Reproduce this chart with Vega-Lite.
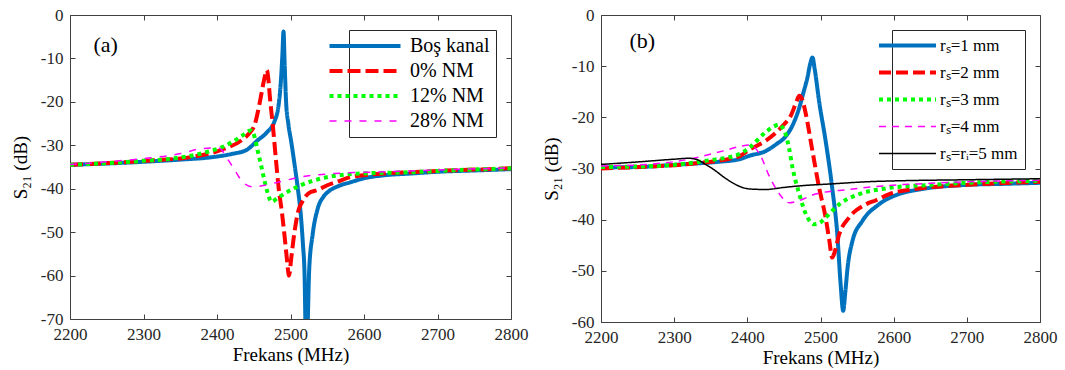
{
  "$schema": "https://vega.github.io/schema/vega-lite/v6.json",
  "background": "white",
  "padding": {"left": 10, "top": 5, "right": 5, "bottom": 0},
  "spacing": 12,
  "config": {
    "view": {"stroke": "#404040", "strokeWidth": 1},
    "font": "Liberation Serif",
    "text": {"font": "Liberation Serif"},
    "style": {
      "guide-label": {"font": "Liberation Serif", "fontWeight": "normal"},
      "guide-title": {"font": "Liberation Serif", "fontWeight": "normal"}
    },
    "axis": {
      "labelFont": "Liberation Serif", "labelFontSize": 17, "labelColor": "#262626", "labelFontWeight": "normal",
      "titleFont": "Liberation Serif", "titleFontSize": 19, "titleFontWeight": "normal", "titleColor": "black",
      "grid": false, "domain": false, "tickColor": "#404040", "tickSize": -5, "tickWidth": 1,
      "labelPadding": 12, "titlePadding": 10, "labelFlush": false, "labelOverlap": false
    },
    "axisX": {"titlePadding": 3, "format": "d"},
    "legend": {
      "orient": "top-right", "offset": 15, "strokeColor": "#262626", "fillColor": "white",
      "labelFont": "Liberation Serif", "labelFontWeight": "normal", "labelColor": "black", "symbolType": "stroke", "cornerRadius": 0
    }
  },
  "resolve": {
    "scale": {"color": "independent", "strokeDash": "independent"},
    "legend": {"color": "independent", "strokeDash": "independent"}
  },
  "datasets": {
    "a": [
      {"f": 2200, "s21": -34.5, "series": "Boş kanal"},
      {"f": 2250, "s21": -34.2, "series": "Boş kanal"},
      {"f": 2300, "s21": -33.8, "series": "Boş kanal"},
      {"f": 2350, "s21": -33.3, "series": "Boş kanal"},
      {"f": 2390, "s21": -32.8, "series": "Boş kanal"},
      {"f": 2420, "s21": -32.0, "series": "Boş kanal"},
      {"f": 2440, "s21": -31.1, "series": "Boş kanal"},
      {"f": 2455, "s21": -28.9, "series": "Boş kanal"},
      {"f": 2468, "s21": -27.0, "series": "Boş kanal"},
      {"f": 2478, "s21": -24.6, "series": "Boş kanal"},
      {"f": 2484, "s21": -20.5, "series": "Boş kanal"},
      {"f": 2487, "s21": -15.0, "series": "Boş kanal"},
      {"f": 2489, "s21": -9.0, "series": "Boş kanal"},
      {"f": 2490.5, "s21": -3.8, "series": "Boş kanal"},
      {"f": 2492, "s21": -11.0, "series": "Boş kanal"},
      {"f": 2494, "s21": -20.0, "series": "Boş kanal"},
      {"f": 2497, "s21": -25.0, "series": "Boş kanal"},
      {"f": 2501, "s21": -29.2, "series": "Boş kanal"},
      {"f": 2506, "s21": -35.0, "series": "Boş kanal"},
      {"f": 2510, "s21": -40.0, "series": "Boş kanal"},
      {"f": 2514, "s21": -46.0, "series": "Boş kanal"},
      {"f": 2517, "s21": -53.0, "series": "Boş kanal"},
      {"f": 2519, "s21": -59.0, "series": "Boş kanal"},
      {"f": 2521.5, "s21": -80.0, "series": "Boş kanal"},
      {"f": 2525.5, "s21": -58.4, "series": "Boş kanal"},
      {"f": 2530, "s21": -50.7, "series": "Boş kanal"},
      {"f": 2537, "s21": -44.6, "series": "Boş kanal"},
      {"f": 2545, "s21": -41.8, "series": "Boş kanal"},
      {"f": 2552, "s21": -40.6, "series": "Boş kanal"},
      {"f": 2565, "s21": -39.4, "series": "Boş kanal"},
      {"f": 2582, "s21": -38.5, "series": "Boş kanal"},
      {"f": 2600, "s21": -37.6, "series": "Boş kanal"},
      {"f": 2628, "s21": -36.9, "series": "Boş kanal"},
      {"f": 2664, "s21": -36.5, "series": "Boş kanal"},
      {"f": 2700, "s21": -36.1, "series": "Boş kanal"},
      {"f": 2750, "s21": -35.8, "series": "Boş kanal"},
      {"f": 2800, "s21": -35.5, "series": "Boş kanal"},

      {"f": 2200, "s21": -34.5, "series": "0% NM"},
      {"f": 2250, "s21": -34.1, "series": "0% NM"},
      {"f": 2310, "s21": -33.5, "series": "0% NM"},
      {"f": 2365, "s21": -32.7, "series": "0% NM"},
      {"f": 2410, "s21": -30.8, "series": "0% NM"},
      {"f": 2433, "s21": -28.9, "series": "0% NM"},
      {"f": 2445, "s21": -27.0, "series": "0% NM"},
      {"f": 2451, "s21": -25.4, "series": "0% NM"},
      {"f": 2456, "s21": -22.0, "series": "0% NM"},
      {"f": 2460, "s21": -18.5, "series": "0% NM"},
      {"f": 2464, "s21": -15.0, "series": "0% NM"},
      {"f": 2468, "s21": -12.7, "series": "0% NM"},
      {"f": 2470, "s21": -15.0, "series": "0% NM"},
      {"f": 2472, "s21": -19.0, "series": "0% NM"},
      {"f": 2476, "s21": -25.5, "series": "0% NM"},
      {"f": 2480, "s21": -33.0, "series": "0% NM"},
      {"f": 2484, "s21": -40.0, "series": "0% NM"},
      {"f": 2488, "s21": -45.0, "series": "0% NM"},
      {"f": 2492, "s21": -51.0, "series": "0% NM"},
      {"f": 2495, "s21": -56.0, "series": "0% NM"},
      {"f": 2498, "s21": -60.0, "series": "0% NM"},
      {"f": 2501, "s21": -56.0, "series": "0% NM"},
      {"f": 2505, "s21": -50.5, "series": "0% NM"},
      {"f": 2510, "s21": -45.5, "series": "0% NM"},
      {"f": 2516, "s21": -43.0, "series": "0% NM"},
      {"f": 2525, "s21": -41.0, "series": "0% NM"},
      {"f": 2537, "s21": -40.3, "series": "0% NM"},
      {"f": 2550, "s21": -39.2, "series": "0% NM"},
      {"f": 2565, "s21": -38.3, "series": "0% NM"},
      {"f": 2582, "s21": -37.3, "series": "0% NM"},
      {"f": 2628, "s21": -36.5, "series": "0% NM"},
      {"f": 2664, "s21": -36.2, "series": "0% NM"},
      {"f": 2700, "s21": -35.9, "series": "0% NM"},
      {"f": 2750, "s21": -35.6, "series": "0% NM"},
      {"f": 2800, "s21": -35.3, "series": "0% NM"},

      {"f": 2200, "s21": -34.5, "series": "12% NM"},
      {"f": 2250, "s21": -34.1, "series": "12% NM"},
      {"f": 2297, "s21": -33.6, "series": "12% NM"},
      {"f": 2342, "s21": -33.0, "series": "12% NM"},
      {"f": 2387, "s21": -31.5, "series": "12% NM"},
      {"f": 2410, "s21": -30.2, "series": "12% NM"},
      {"f": 2424, "s21": -28.9, "series": "12% NM"},
      {"f": 2436, "s21": -27.6, "series": "12% NM"},
      {"f": 2446, "s21": -26.6, "series": "12% NM"},
      {"f": 2451, "s21": -28.0, "series": "12% NM"},
      {"f": 2455, "s21": -31.0, "series": "12% NM"},
      {"f": 2460, "s21": -34.6, "series": "12% NM"},
      {"f": 2464, "s21": -37.7, "series": "12% NM"},
      {"f": 2469, "s21": -41.0, "series": "12% NM"},
      {"f": 2474, "s21": -43.0, "series": "12% NM"},
      {"f": 2482, "s21": -42.2, "series": "12% NM"},
      {"f": 2492, "s21": -41.1, "series": "12% NM"},
      {"f": 2514, "s21": -39.2, "series": "12% NM"},
      {"f": 2530, "s21": -38.2, "series": "12% NM"},
      {"f": 2551, "s21": -37.3, "series": "12% NM"},
      {"f": 2596, "s21": -36.5, "series": "12% NM"},
      {"f": 2664, "s21": -36.2, "series": "12% NM"},
      {"f": 2700, "s21": -35.9, "series": "12% NM"},
      {"f": 2800, "s21": -35.3, "series": "12% NM"},

      {"f": 2200, "s21": -34.4, "series": "28% NM"},
      {"f": 2250, "s21": -33.8, "series": "28% NM"},
      {"f": 2297, "s21": -33.1, "series": "28% NM"},
      {"f": 2351, "s21": -31.9, "series": "28% NM"},
      {"f": 2378, "s21": -30.8, "series": "28% NM"},
      {"f": 2401, "s21": -30.6, "series": "28% NM"},
      {"f": 2406, "s21": -31.0, "series": "28% NM"},
      {"f": 2413, "s21": -32.8, "series": "28% NM"},
      {"f": 2423, "s21": -35.4, "series": "28% NM"},
      {"f": 2437, "s21": -38.8, "series": "28% NM"},
      {"f": 2450, "s21": -39.6, "series": "28% NM"},
      {"f": 2465, "s21": -39.2, "series": "28% NM"},
      {"f": 2483, "s21": -38.5, "series": "28% NM"},
      {"f": 2514, "s21": -37.3, "series": "28% NM"},
      {"f": 2560, "s21": -36.5, "series": "28% NM"},
      {"f": 2605, "s21": -36.2, "series": "28% NM"},
      {"f": 2650, "s21": -36.0, "series": "28% NM"},
      {"f": 2700, "s21": -35.7, "series": "28% NM"},
      {"f": 2800, "s21": -35.2, "series": "28% NM"}
    ],
    "b": [
      {"f": 2200, "s21": -29.8, "series": "rₛ=1 mm"},
      {"f": 2252, "s21": -29.7, "series": "rₛ=1 mm"},
      {"f": 2300, "s21": -29.3, "series": "rₛ=1 mm"},
      {"f": 2321, "s21": -29.1, "series": "rₛ=1 mm"},
      {"f": 2360, "s21": -28.7, "series": "rₛ=1 mm"},
      {"f": 2389, "s21": -28.2, "series": "rₛ=1 mm"},
      {"f": 2403, "s21": -27.5, "series": "rₛ=1 mm"},
      {"f": 2425, "s21": -26.6, "series": "rₛ=1 mm"},
      {"f": 2440, "s21": -25.2, "series": "rₛ=1 mm"},
      {"f": 2452, "s21": -23.8, "series": "rₛ=1 mm"},
      {"f": 2462, "s21": -21.5, "series": "rₛ=1 mm"},
      {"f": 2471, "s21": -18.1, "series": "rₛ=1 mm"},
      {"f": 2477, "s21": -15.0, "series": "rₛ=1 mm"},
      {"f": 2482, "s21": -12.3, "series": "rₛ=1 mm"},
      {"f": 2486, "s21": -9.5, "series": "rₛ=1 mm"},
      {"f": 2489, "s21": -8.3, "series": "rₛ=1 mm"},
      {"f": 2492, "s21": -10.5, "series": "rₛ=1 mm"},
      {"f": 2498, "s21": -16.8, "series": "rₛ=1 mm"},
      {"f": 2507, "s21": -24.6, "series": "rₛ=1 mm"},
      {"f": 2516, "s21": -33.8, "series": "rₛ=1 mm"},
      {"f": 2523, "s21": -42.9, "series": "rₛ=1 mm"},
      {"f": 2527.5, "s21": -52.6, "series": "rₛ=1 mm"},
      {"f": 2531, "s21": -57.8, "series": "rₛ=1 mm"},
      {"f": 2534, "s21": -54.0, "series": "rₛ=1 mm"},
      {"f": 2537, "s21": -49.4, "series": "rₛ=1 mm"},
      {"f": 2543.6, "s21": -44.2, "series": "rₛ=1 mm"},
      {"f": 2557, "s21": -40.3, "series": "rₛ=1 mm"},
      {"f": 2580, "s21": -37.0, "series": "rₛ=1 mm"},
      {"f": 2607, "s21": -35.0, "series": "rₛ=1 mm"},
      {"f": 2635, "s21": -34.1, "series": "rₛ=1 mm"},
      {"f": 2700, "s21": -33.2, "series": "rₛ=1 mm"},
      {"f": 2750, "s21": -33.0, "series": "rₛ=1 mm"},
      {"f": 2800, "s21": -32.8, "series": "rₛ=1 mm"},

      {"f": 2200, "s21": -30.0, "series": "rₛ=2 mm"},
      {"f": 2252, "s21": -29.7, "series": "rₛ=2 mm"},
      {"f": 2321, "s21": -29.1, "series": "rₛ=2 mm"},
      {"f": 2389, "s21": -27.6, "series": "rₛ=2 mm"},
      {"f": 2403, "s21": -26.3, "series": "rₛ=2 mm"},
      {"f": 2425, "s21": -24.6, "series": "rₛ=2 mm"},
      {"f": 2448, "s21": -21.7, "series": "rₛ=2 mm"},
      {"f": 2460, "s21": -19.5, "series": "rₛ=2 mm"},
      {"f": 2467, "s21": -17.0, "series": "rₛ=2 mm"},
      {"f": 2471, "s21": -15.8, "series": "rₛ=2 mm"},
      {"f": 2475, "s21": -16.5, "series": "rₛ=2 mm"},
      {"f": 2480, "s21": -19.4, "series": "rₛ=2 mm"},
      {"f": 2489, "s21": -26.6, "series": "rₛ=2 mm"},
      {"f": 2498, "s21": -33.7, "series": "rₛ=2 mm"},
      {"f": 2507, "s21": -39.6, "series": "rₛ=2 mm"},
      {"f": 2512, "s21": -44.0, "series": "rₛ=2 mm"},
      {"f": 2516, "s21": -47.4, "series": "rₛ=2 mm"},
      {"f": 2519, "s21": -46.5, "series": "rₛ=2 mm"},
      {"f": 2525.5, "s21": -42.9, "series": "rₛ=2 mm"},
      {"f": 2539, "s21": -39.6, "series": "rₛ=2 mm"},
      {"f": 2562, "s21": -37.0, "series": "rₛ=2 mm"},
      {"f": 2576, "s21": -36.2, "series": "rₛ=2 mm"},
      {"f": 2594, "s21": -35.0, "series": "rₛ=2 mm"},
      {"f": 2635, "s21": -33.9, "series": "rₛ=2 mm"},
      {"f": 2700, "s21": -33.2, "series": "rₛ=2 mm"},
      {"f": 2800, "s21": -32.6, "series": "rₛ=2 mm"},

      {"f": 2200, "s21": -29.7, "series": "rₛ=3 mm"},
      {"f": 2252, "s21": -29.6, "series": "rₛ=3 mm"},
      {"f": 2298, "s21": -29.3, "series": "rₛ=3 mm"},
      {"f": 2343, "s21": -28.5, "series": "rₛ=3 mm"},
      {"f": 2389, "s21": -27.2, "series": "rₛ=3 mm"},
      {"f": 2403, "s21": -25.9, "series": "rₛ=3 mm"},
      {"f": 2425, "s21": -22.9, "series": "rₛ=3 mm"},
      {"f": 2436, "s21": -21.8, "series": "rₛ=3 mm"},
      {"f": 2443.5, "s21": -21.4, "series": "rₛ=3 mm"},
      {"f": 2448, "s21": -22.0, "series": "rₛ=3 mm"},
      {"f": 2452.6, "s21": -23.4, "series": "rₛ=3 mm"},
      {"f": 2457, "s21": -26.0, "series": "rₛ=3 mm"},
      {"f": 2461.7, "s21": -29.8, "series": "rₛ=3 mm"},
      {"f": 2471, "s21": -35.0, "series": "rₛ=3 mm"},
      {"f": 2480, "s21": -38.9, "series": "rₛ=3 mm"},
      {"f": 2491, "s21": -40.9, "series": "rₛ=3 mm"},
      {"f": 2499, "s21": -40.6, "series": "rₛ=3 mm"},
      {"f": 2507, "s21": -39.6, "series": "rₛ=3 mm"},
      {"f": 2525.5, "s21": -37.0, "series": "rₛ=3 mm"},
      {"f": 2553, "s21": -35.0, "series": "rₛ=3 mm"},
      {"f": 2589, "s21": -33.9, "series": "rₛ=3 mm"},
      {"f": 2650, "s21": -33.2, "series": "rₛ=3 mm"},
      {"f": 2700, "s21": -32.8, "series": "rₛ=3 mm"},
      {"f": 2800, "s21": -32.4, "series": "rₛ=3 mm"},

      {"f": 2200, "s21": -29.5, "series": "rₛ=4 mm"},
      {"f": 2252, "s21": -29.3, "series": "rₛ=4 mm"},
      {"f": 2320, "s21": -28.2, "series": "rₛ=4 mm"},
      {"f": 2366, "s21": -26.6, "series": "rₛ=4 mm"},
      {"f": 2390, "s21": -25.7, "series": "rₛ=4 mm"},
      {"f": 2403, "s21": -25.4, "series": "rₛ=4 mm"},
      {"f": 2410, "s21": -25.9, "series": "rₛ=4 mm"},
      {"f": 2417, "s21": -27.2, "series": "rₛ=4 mm"},
      {"f": 2430, "s21": -31.5, "series": "rₛ=4 mm"},
      {"f": 2444, "s21": -35.0, "series": "rₛ=4 mm"},
      {"f": 2457, "s21": -36.7, "series": "rₛ=4 mm"},
      {"f": 2470, "s21": -36.3, "series": "rₛ=4 mm"},
      {"f": 2493, "s21": -35.0, "series": "rₛ=4 mm"},
      {"f": 2539, "s21": -34.1, "series": "rₛ=4 mm"},
      {"f": 2585, "s21": -33.4, "series": "rₛ=4 mm"},
      {"f": 2650, "s21": -32.9, "series": "rₛ=4 mm"},
      {"f": 2700, "s21": -32.6, "series": "rₛ=4 mm"},
      {"f": 2800, "s21": -32.3, "series": "rₛ=4 mm"},

      {"f": 2200, "s21": -29.2, "series": "rₛ=rᵢ=5 mm"},
      {"f": 2252, "s21": -28.7, "series": "rₛ=rᵢ=5 mm"},
      {"f": 2298, "s21": -28.2, "series": "rₛ=rᵢ=5 mm"},
      {"f": 2320, "s21": -28.0, "series": "rₛ=rᵢ=5 mm"},
      {"f": 2330, "s21": -28.2, "series": "rₛ=rᵢ=5 mm"},
      {"f": 2343, "s21": -29.2, "series": "rₛ=rᵢ=5 mm"},
      {"f": 2357, "s21": -30.5, "series": "rₛ=rᵢ=5 mm"},
      {"f": 2368, "s21": -31.7, "series": "rₛ=rᵢ=5 mm"},
      {"f": 2380, "s21": -32.8, "series": "rₛ=rᵢ=5 mm"},
      {"f": 2393, "s21": -33.7, "series": "rₛ=rᵢ=5 mm"},
      {"f": 2403, "s21": -34.0, "series": "rₛ=rᵢ=5 mm"},
      {"f": 2425, "s21": -34.1, "series": "rₛ=rᵢ=5 mm"},
      {"f": 2450, "s21": -33.7, "series": "rₛ=rᵢ=5 mm"},
      {"f": 2471, "s21": -33.4, "series": "rₛ=rᵢ=5 mm"},
      {"f": 2516, "s21": -33.0, "series": "rₛ=rᵢ=5 mm"},
      {"f": 2562, "s21": -32.6, "series": "rₛ=rᵢ=5 mm"},
      {"f": 2607, "s21": -32.4, "series": "rₛ=rᵢ=5 mm"},
      {"f": 2700, "s21": -32.2, "series": "rₛ=rᵢ=5 mm"},
      {"f": 2800, "s21": -32.0, "series": "rₛ=rᵢ=5 mm"}
    ],
    "la": [{"f": 2232, "s21": -6.8, "label": "(a)"}],
    "lb": [{"f": 2239, "s21": -5.0, "label": "(b)"}]
  },
  "hconcat": [
    {
      "width": 441,
      "height": 304,
      "layer": [
        {
          "data": {"name": "a"},
          "mark": {"type": "line", "clip": true, "interpolate": "monotone", "strokeCap": "butt", "strokeJoin": "round"},
          "encoding": {
            "x": {"field": "f", "type": "quantitative", "scale": {"domain": [2200, 2800], "nice": false},
                  "axis": {"orient": "bottom", "values": [2200, 2300, 2400, 2500, 2600, 2700, 2800], "format": "d", "title": "Frekans (MHz)",
                           "encode": {"labels": {"update": {"font": {"value": "Liberation Serif"}}}, "title": {"update": {"font": {"value": "Liberation Serif"}}}}}},
            "y": {"field": "s21", "type": "quantitative", "scale": {"domain": [-70, 0], "nice": false},
                  "axis": {"orient": "left", "values": [-70, -60, -50, -40, -30, -20, -10, 0], "labelExpr": "'' + datum.value", "title": "S₂₁ (dB)",
                           "encode": {"labels": {"update": {"font": {"value": "Liberation Serif"}}}, "title": {"update": {"font": {"value": "Liberation Serif"}}}}}},
            "color": {"field": "series", "type": "nominal",
                      "scale": {"domain": ["Boş kanal", "0% NM", "12% NM", "28% NM"], "range": ["#0072BD", "#FF0000", "#00FF00", "#FF00FF"]},
                      "legend": {"title": null, "labelFont": "Liberation Serif", "labelFontSize": 20, "symbolSize": 5041, "rowPadding": 5, "labelOffset": 35, "padding": 6,
                                 "encode": {"symbols": {"update": {"strokeWidth": {"signal": "datum.value === '28% NM' ? 1.5 : 4"}}},
                                            "labels": {"update": {"font": {"value": "Liberation Serif"}}}}}},
            "strokeDash": {"field": "series", "type": "nominal",
                      "scale": {"domain": ["Boş kanal", "0% NM", "12% NM", "28% NM"], "range": [[1, 0], [13, 5], [4, 4], [7, 8]]},
                      "legend": {"title": null, "labelFont": "Liberation Serif", "labelFontSize": 20, "symbolSize": 5041, "rowPadding": 5, "labelOffset": 35, "padding": 6,
                                 "encode": {"symbols": {"update": {"strokeWidth": {"signal": "datum.value === '28% NM' ? 1.5 : 4"}}},
                                            "labels": {"update": {"font": {"value": "Liberation Serif"}}}}}},
            "strokeWidth": {"condition": {"test": "datum.series === '28% NM'", "value": 1.5}, "value": 4}
          }
        },
        {
          "data": {"name": "la"},
          "mark": {"type": "text", "align": "left", "baseline": "middle", "font": "Liberation Serif", "fontSize": 22, "color": "black"},
          "encoding": {
            "x": {"field": "f", "type": "quantitative", "scale": {"domain": [2200, 2800], "nice": false},
                  "axis": {"orient": "top", "values": [2200, 2300, 2400, 2500, 2600, 2700, 2800], "labels": false, "title": null}},
            "y": {"field": "s21", "type": "quantitative", "scale": {"domain": [-70, 0], "nice": false},
                  "axis": {"orient": "right", "values": [-70, -60, -50, -40, -30, -20, -10, 0], "labels": false, "title": null}},
            "text": {"field": "label"}
          }
        }
      ]
    },
    {
      "width": 439,
      "height": 307,
      "layer": [
        {
          "data": {"name": "b"},
          "mark": {"type": "line", "clip": true, "interpolate": "monotone", "strokeCap": "butt", "strokeJoin": "round"},
          "encoding": {
            "x": {"field": "f", "type": "quantitative", "scale": {"domain": [2200, 2800], "nice": false},
                  "axis": {"orient": "bottom", "values": [2200, 2300, 2400, 2500, 2600, 2700, 2800], "format": "d", "title": "Frekans (MHz)",
                           "encode": {"labels": {"update": {"font": {"value": "Liberation Serif"}}}, "title": {"update": {"font": {"value": "Liberation Serif"}}}}}},
            "y": {"field": "s21", "type": "quantitative", "scale": {"domain": [-60, 0], "nice": false},
                  "axis": {"orient": "left", "values": [-60, -50, -40, -30, -20, -10, 0], "labelExpr": "'' + datum.value", "title": "S₂₁ (dB)",
                           "encode": {"labels": {"update": {"font": {"value": "Liberation Serif"}}}, "title": {"update": {"font": {"value": "Liberation Serif"}}}}}},
            "color": {"field": "series", "type": "nominal",
                      "scale": {"domain": ["rₛ=1 mm", "rₛ=2 mm", "rₛ=3 mm", "rₛ=4 mm", "rₛ=rᵢ=5 mm"], "range": ["#0072BD", "#FF0000", "#00FF00", "#FF00FF", "#000000"]},
                      "legend": {"title": null, "labelFont": "Liberation Serif", "labelFontSize": 17, "symbolSize": 3249, "rowPadding": 9, "labelOffset": 24, "padding": 7,
                                 "encode": {"symbols": {"update": {"strokeWidth": {"signal": "datum.value === 'rₛ=4 mm' || datum.value === 'rₛ=rᵢ=5 mm' ? 1.5 : 4"}}}}}},
            "strokeDash": {"field": "series", "type": "nominal",
                      "scale": {"domain": ["rₛ=1 mm", "rₛ=2 mm", "rₛ=3 mm", "rₛ=4 mm", "rₛ=rᵢ=5 mm"], "range": [[1, 0], [12, 5], [4, 4], [7, 6], [1, 0]]},
                      "legend": {"title": null, "labelFont": "Liberation Serif", "labelFontSize": 17, "symbolSize": 3249, "rowPadding": 9, "labelOffset": 24, "padding": 7,
                                 "encode": {"symbols": {"update": {"strokeWidth": {"signal": "datum.value === 'rₛ=4 mm' || datum.value === 'rₛ=rᵢ=5 mm' ? 1.5 : 4"}}}}}},
            "strokeWidth": {"condition": {"test": "datum.series === 'rₛ=4 mm' || datum.series === 'rₛ=rᵢ=5 mm'", "value": 1.5}, "value": 4}
          }
        },
        {
          "data": {"name": "lb"},
          "mark": {"type": "text", "align": "left", "baseline": "middle", "font": "Liberation Serif", "fontSize": 22, "color": "black"},
          "encoding": {
            "x": {"field": "f", "type": "quantitative", "scale": {"domain": [2200, 2800], "nice": false},
                  "axis": {"orient": "top", "values": [2200, 2300, 2400, 2500, 2600, 2700, 2800], "labels": false, "title": null}},
            "y": {"field": "s21", "type": "quantitative", "scale": {"domain": [-60, 0], "nice": false},
                  "axis": {"orient": "right", "values": [-60, -50, -40, -30, -20, -10, 0], "labels": false, "title": null}},
            "text": {"field": "label"}
          }
        }
      ]
    }
  ]
}
